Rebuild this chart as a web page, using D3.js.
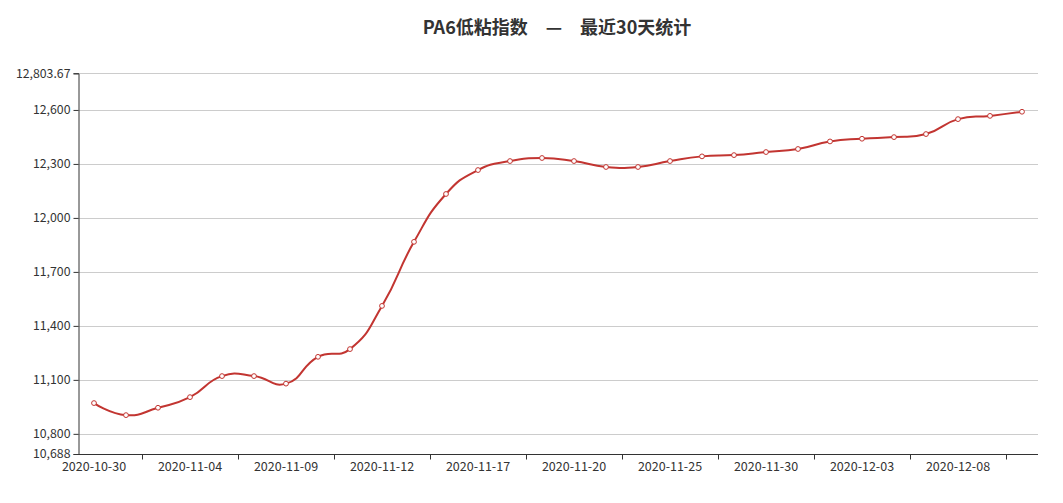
<!DOCTYPE html>
<html><head><meta charset="utf-8">
<script src="https://cdn.jsdelivr.net/npm/d3@7/dist/d3.min.js"></script>
<style>body{margin:0;background:#fff}svg{display:block}text{font-family:"Noto Sans CJK SC","Microsoft YaHei",sans-serif}</style>
</head><body><svg id="c" width="1063" height="503"></svg>
<script>
const titleText = "PA6低粘指数　—　最近30天统计";
const dates = ["2020-10-30","2020-11-02","2020-11-03","2020-11-04","2020-11-05","2020-11-06","2020-11-09","2020-11-10","2020-11-11","2020-11-12","2020-11-13","2020-11-16","2020-11-17","2020-11-18","2020-11-19","2020-11-20","2020-11-23","2020-11-24","2020-11-25","2020-11-26","2020-11-27","2020-11-30","2020-12-01","2020-12-02","2020-12-03","2020-12-04","2020-12-07","2020-12-08","2020-12-09","2020-12-10"];
const values = [10971,10904,10945,11004,11121,11121,11079,11228,11271,11511,11867,12133,12266,12316,12333,12316,12283,12283,12316,12342,12349,12366,12383,12425,12440,12449,12466,12549,12567,12590];
const yMin = 10688, yMax = 12803.67;
const yTicks = [10688,10800,11100,11400,11700,12000,12300,12600,12803.67];

const svg = d3.select("#c");
const L = 78, R = 1038, T = 73.3, B = 454;
const x = d3.scaleBand().domain(dates).range([L, R]);
const y = d3.scaleLinear().domain([yMin, yMax]).range([B, T]);
const fmt = v => d3.format(",")(v);

svg.append("text").attr("x", 557).attr("y", 34).attr("text-anchor","middle")
  .attr("font-size", 18).attr("font-weight","bold").attr("fill","#333").text(titleText);

// grid
const g = svg.append("g");
g.selectAll("line.grid").data(yTicks.filter(t => t !== yMin)).enter().append("line")
  .attr("x1", L).attr("x2", R).attr("y1", d => Math.round(y(d))+0.5).attr("y2", d => Math.round(y(d))+0.5)
  .attr("stroke","#ccc").attr("stroke-width",1);

// y axis
const yAxis = d3.axisLeft(y).tickValues(yTicks).tickSize(5).tickPadding(3).tickFormat(fmt);
const ya = svg.append("g").attr("transform",`translate(${L+0.5},0)`).call(yAxis);
ya.select(".domain").attr("stroke","#333");
ya.selectAll(".tick line").attr("stroke","#333");
ya.selectAll(".tick text").attr("font-size",12.3).attr("fill","#333").attr("font-family",'"Noto Sans CJK SC",sans-serif');

// x axis
const xa = svg.append("g").attr("transform",`translate(0,${B+0.5})`);
xa.append("line").attr("x1",L).attr("x2",R).attr("stroke","#333");
const tickIdx = dates.map((d,i)=>i).filter(i => i % 3 === 1);
xa.selectAll("line.tk").data(tickIdx).enter().append("line")
  .attr("x1", i => Math.round(x(dates[i]) + x.bandwidth())+0.5)
  .attr("x2", i => Math.round(x(dates[i]) + x.bandwidth())+0.5)
  .attr("y1",0).attr("y2",5).attr("stroke","#333");
xa.selectAll("text").data(dates.filter((d,i)=> i % 3 === 0)).enter().append("text")
  .attr("x", d => x(d) + x.bandwidth()/2).attr("y", 16).attr("text-anchor","middle")
  .attr("font-size",12.5).attr("fill","#333").text(d => d);

// smooth line (echarts-like bezier)
const pts = dates.map((d,i)=>[x(d)+x.bandwidth()/2, y(values[i])]);
const smooth = 0.5;
const cps = [];
for (let i=0;i<pts.length;i++){
  const p = pts[i];
  if (i===0 || i===pts.length-1){ cps.push(p); continue; }
  const pr = pts[i-1], nx = pts[i+1];
  const v = [(nx[0]-pr[0])*smooth, (nx[1]-pr[1])*smooth];
  let d0 = Math.hypot(p[0]-pr[0], p[1]-pr[1]), d1 = Math.hypot(p[0]-nx[0], p[1]-nx[1]);
  const s = d0+d1; d0/=s; d1/=s;
  cps.push([p[0]-v[0]*d0, p[1]-v[1]*d0]);
  cps.push([p[0]+v[0]*d1, p[1]+v[1]*d1]);
}
const path = d3.path();
path.moveTo(pts[0][0], pts[0][1]);
for (let i=0;i<pts.length-1;i++){
  const c1 = cps[2*i], c2 = cps[2*i+1], p = pts[i+1];
  path.bezierCurveTo(c1[0],c1[1],c2[0],c2[1],p[0],p[1]);
}
svg.append("path").attr("d", path.toString()).attr("fill","none").attr("stroke","#c23531").attr("stroke-width",2);

svg.selectAll("circle").data(pts).enter().append("circle")
  .attr("cx", d=>d[0]).attr("cy", d=>d[1]).attr("r",2.4)
  .attr("fill","#fff").attr("stroke","#c23531").attr("stroke-width",1);
</script></body></html>
